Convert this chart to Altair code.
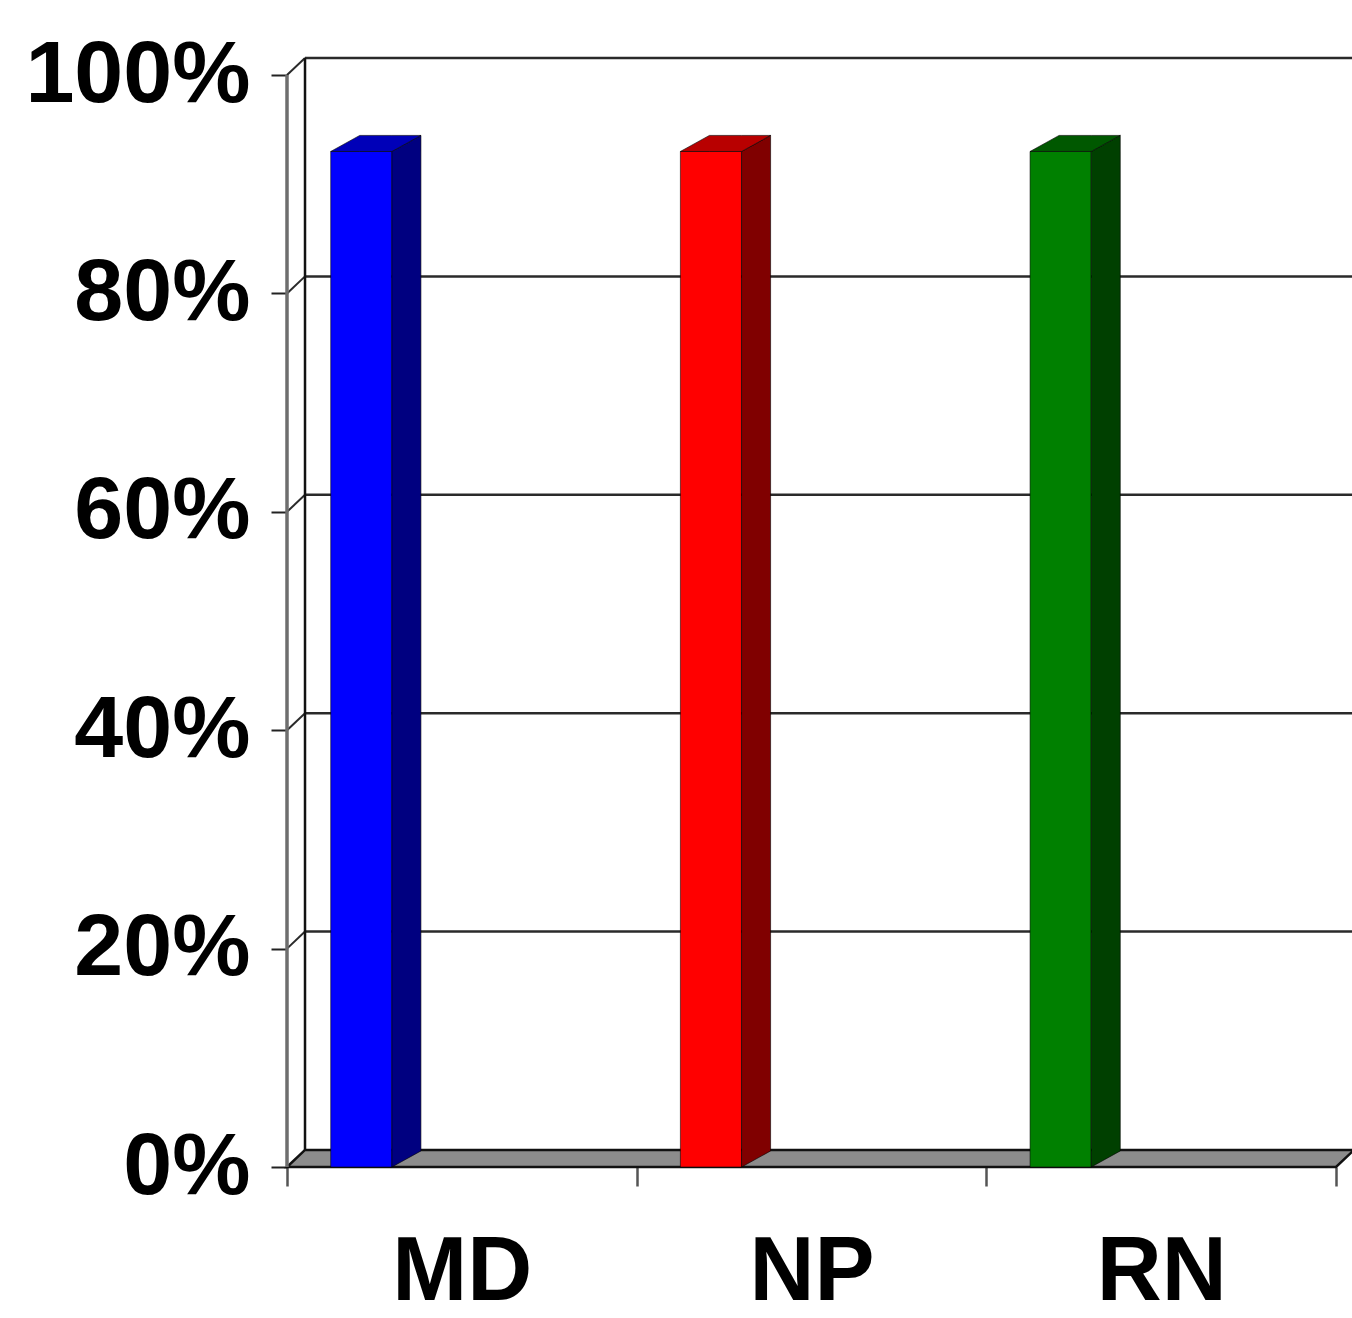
import altair as alt
import pandas as pd

# ---- data -------------------------------------------------------------
categories = ["MD", "NP", "RN"]
values = [93, 93, 93]                      # percent
y_ticks = [0, 20, 40, 60, 80, 100]

# ---- styling ----------------------------------------------------------
front_colors = ["#0000FF", "#FF0000", "#008000"]
side_colors = ["#000080", "#800000", "#004000"]
top_colors = ["#0000B8", "#B80000", "#005800"]
FONT = "Liberation Sans"

# oblique projection of the depth axis, expressed in data units
WALL_DX, WALL_DY = 0.0515, 1.56           # back wall / floor depth
BAR_DX, BAR_DY = 0.083, 1.47              # column depth
BAR_OFFSET, BAR_WIDTH = 0.125, 0.175      # column front face inside its band

N = len(categories)
X_MAX = 3.0457
Y_MAX = 100 + WALL_DY

x_scale = alt.Scale(domain=[0, X_MAX], nice=False, zero=False)
y_scale = alt.Scale(domain=[0, Y_MAX], nice=False, zero=False)

# ---- tables built from the arrays -------------------------------------
front_rows, side_rows, top_rows = [], [], []
for i, (cat, v) in enumerate(zip(categories, values)):
    xl = i + BAR_OFFSET
    xr = xl + BAR_WIDTH
    front_rows.append({"cat": cat, "x": xl, "x2": xr, "y": v, "c": front_colors[i]})
    # right-hand face: a parallelogram running back into the depth axis
    side_rows += [
        {"cat": cat, "x": xr, "y": v, "y2": 0, "c": side_colors[i]},
        {"cat": cat, "x": xr + BAR_DX, "y": v + BAR_DY, "y2": BAR_DY, "c": side_colors[i]},
    ]
    # top face
    top_rows += [
        {"cat": cat, "x": xl, "y": v, "y2": v, "c": top_colors[i]},
        {"cat": cat, "x": xl + BAR_DX, "y": v + BAR_DY, "y2": v, "c": top_colors[i]},
        {"cat": cat, "x": xr, "y": v + BAR_DY, "y2": v, "c": top_colors[i]},
        {"cat": cat, "x": xr + BAR_DX, "y": v + BAR_DY, "y2": v + BAR_DY, "c": top_colors[i]},
    ]
front_df = pd.DataFrame(front_rows)
side_df = pd.DataFrame(side_rows)
top_df = pd.DataFrame(top_rows)

floor_df = pd.DataFrame([
    {"x": 0, "y": 0, "y2": 0},
    {"x": WALL_DX, "y": WALL_DY, "y2": 0},
    {"x": N, "y": WALL_DY, "y2": 0},
    {"x": N + WALL_DX, "y": WALL_DY, "y2": WALL_DY},
])

grid_back = pd.DataFrame([{"x": WALL_DX, "x2": N + WALL_DX, "y": t + WALL_DY}
                          for t in y_ticks if t > 0])
grid_side = pd.DataFrame([{"x": 0, "x2": WALL_DX, "y": t, "y2": t + WALL_DY}
                          for t in y_ticks if t > 0])
wall_edge = pd.DataFrame([{"x": WALL_DX, "y": WALL_DY, "y2": Y_MAX}])
front_edge = pd.DataFrame([{"x": 0, "y": 0, "y2": max(y_ticks)}])

# ---- axes ---------------------------------------------------------------
label_list = "[" + ",".join(f"'{c}'" for c in categories) + "]"
x_axis = alt.Axis(
    values=[k / 2 for k in range(2 * N + 1)],
    labelExpr=f"datum.value % 1 == 0.5 ? {label_list}[floor(datum.value)] : ''",
    tickOpacity={"condition": {"test": "datum.value % 1 != 0", "value": 0}, "value": 1},
    tickSize=19, tickColor="#555555", tickWidth=2.5,
    labelFont=FONT, labelFontSize=90, labelFontWeight="bold", labelColor="black",
    labelPadding=42, labelOverlap=False, labelFlush=False, labelBound=False,
    labelLimit=0, domain=False, grid=False, title=None,
)
y_axis = alt.Axis(
    values=y_ticks,
    labelExpr="datum.value + '%'",
    tickSize=16, tickColor="#222222", tickWidth=2,
    labelFont=FONT, labelFontSize=88, labelFontWeight="bold", labelColor="black",
    labelPadding=21, labelOverlap=False, labelFlush=False, labelBound=False,
    labelLimit=0, domain=False, grid=False, title=None,
)


def X(field="x"):
    return alt.X(f"{field}:Q", scale=x_scale, axis=x_axis)


def Y(field="y"):
    return alt.Y(f"{field}:Q", scale=y_scale, axis=y_axis)


# ---- layers -------------------------------------------------------------
floor = alt.Chart(floor_df).mark_area(
    color="#8C8C8C", stroke="#111111", strokeWidth=2.5, interpolate="linear"
).encode(x=X(), y=Y(), y2="y2:Q")

back_lines = alt.Chart(grid_back).mark_rule(color="#2A2A2A", strokeWidth=2.5).encode(
    x=X(), x2="x2:Q", y=Y(),
)
side_lines = alt.Chart(grid_side).mark_rule(color="#2A2A2A", strokeWidth=2).encode(
    x=X(), x2="x2:Q", y=Y(), y2="y2:Q",
)
wall_line = alt.Chart(wall_edge).mark_rule(color="#111111", strokeWidth=2.5).encode(
    x=X(), y=Y(), y2="y2:Q",
)
front_line = alt.Chart(front_edge).mark_rule(color="#6E6E6E", strokeWidth=3.5).encode(
    x=X(), y=Y(), y2="y2:Q",
)

bar_front = alt.Chart(front_df).mark_bar(
    stroke="#000000", strokeWidth=1, strokeOpacity=0.55
).encode(
    x=X(), x2="x2:Q", y=Y(), y2=alt.datum(0),
    color=alt.Color("c:N", scale=None),
)
bar_side = alt.Chart(side_df).mark_area(
    stroke="#000000", strokeWidth=1, strokeOpacity=0.6, interpolate="linear"
).encode(
    x=X(), y=Y(), y2="y2:Q",
    color=alt.Color("c:N", scale=None),
    detail="cat:N",
)
bar_top = alt.Chart(top_df).mark_area(
    stroke="#000000", strokeWidth=1, strokeOpacity=0.6, interpolate="linear"
).encode(
    x=X(), y=Y(), y2="y2:Q",
    color=alt.Color("c:N", scale=None),
    detail="cat:N",
)

chart = alt.layer(
    floor, back_lines, side_lines, wall_line, front_line,
    bar_front, bar_side, bar_top,
).properties(
    width=1065,
    height=1109,
    autosize=alt.AutoSizeParams(type="none"),
    padding={"left": 287, "top": 58, "right": 0, "bottom": 150},
    background="white",
).configure_view(strokeWidth=0)

chart.save("out.html", embed_options={"renderer": "svg", "actions": False})
